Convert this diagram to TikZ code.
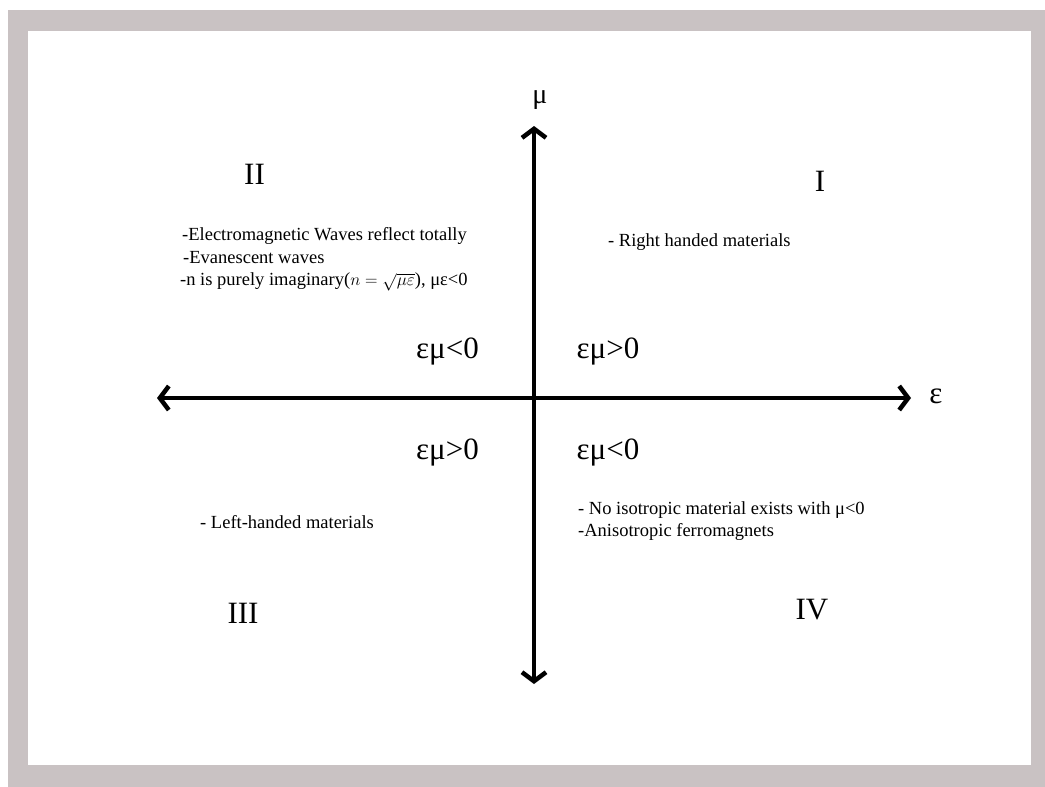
\documentclass[tikz,border=0pt]{standalone}
\usepackage{fontspec}
\setmainfont{Liberation Serif}
\usetikzlibrary{arrows.meta}
\definecolor{gframe}{RGB}{201,194,195}
\tikzset{
  axis/.style={line width=4.5pt, arrows={Straight Barb[length=9pt,width=24pt]-Straight Barb[length=9pt,width=24pt]}},
  quad/.style={font=\fontsize{31}{34}\selectfont, inner sep=0pt, anchor=base},
  sign/.style={font=\fontsize{31}{34}\selectfont, inner sep=0pt, anchor=base},
  note/.style={font=\fontsize{18.5}{22}\selectfont, inner sep=0pt, anchor=base west},
  axlabel/.style={font=\fontsize{28}{30}\selectfont, inner sep=0pt}
}
\begin{document}
\begin{tikzpicture}[x=1pt,y=-1pt]
\useasboundingbox (0,0) rectangle (1045,787);
\fill[gframe] (8,10) rectangle (1045,787);
\fill[white] (28,31) rectangle (1031,765);
% axes
\coordinate (top) at (534,126);
\coordinate (bot) at (534,684);
\coordinate (left) at (157,398);
\coordinate (right) at (911,398);
\draw[axis] (left) -- (right);
\draw[axis] (bot) -- (top);
\node[axlabel] (mu) at (540,100) {μ};
\node[axlabel, font=\fontsize{31}{32}\selectfont] (eps) at (936,396) {ε};
% quadrant numbers
\node[quad] (q2) at (254.5,184) {II};
\node[quad] (q1) at (820,191) {I};
\node[quad] (q3) at (243,623) {III};
\node[quad] (q4) at (812,619) {IV};
% signs
\node[sign] (s2) at (447.5,358) {εμ<0};
\node[sign] (s1) at (608,358) {εμ>0};
\node[sign] (s3) at (447.5,459) {εμ>0};
\node[sign] (s4) at (608,459) {εμ<0};
% notes
\node[note] (n2a) at (182,240) {-Electromagnetic Waves reflect totally};
\node[note] (n2b) at (183,263) {-Evanescent waves};
\node[note] (n2c) at (180,285) {-n is purely imaginary($n=\sqrt{\mu\varepsilon}$), με<0};
\node[note] (n1) at (608,246) {- Right handed materials};
\node[note] (n4a) at (578,514) {- No isotropic material exists with μ<0};
\node[note] (n4b) at (578,536) {-Anisotropic ferromagnets};
\node[note] (n3) at (200,528) {- Left-handed materials};
\end{tikzpicture}
\end{document}
